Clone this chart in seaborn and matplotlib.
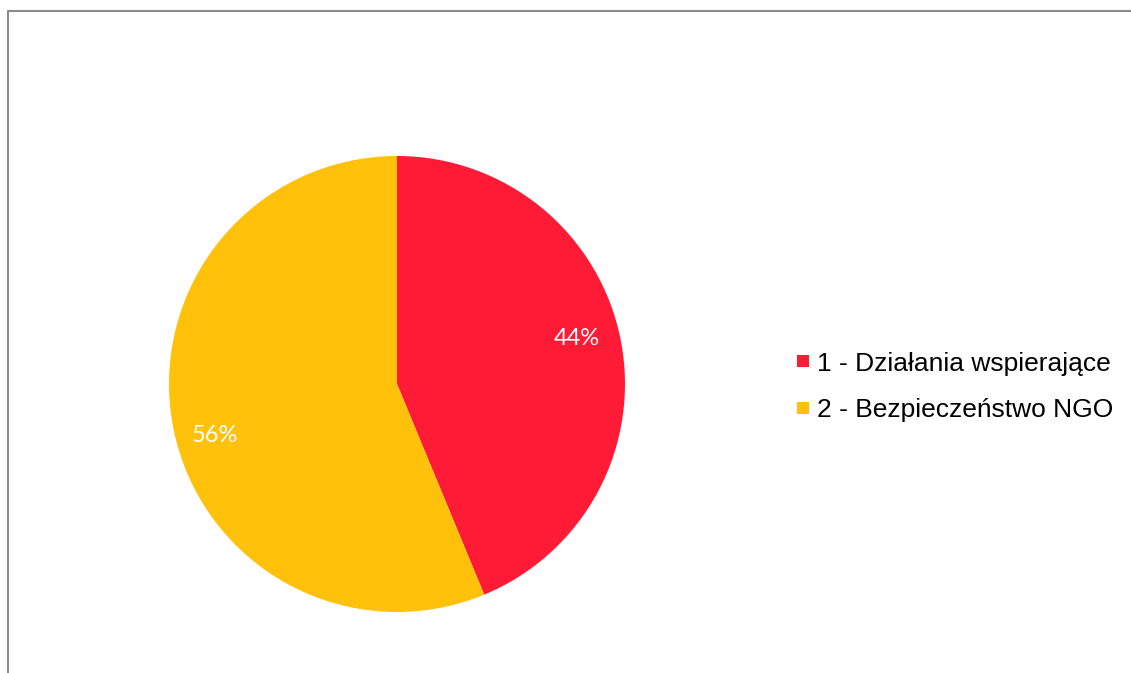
import matplotlib
matplotlib.use("Agg")
import matplotlib.pyplot as plt
from matplotlib.lines import Line2D
import seaborn as sns

categories = ["1 - Działania wspierające", "2 - Bezpieczeństwo NGO"]
counts = [7, 9]
slice_colors = ["#FF1A35", "#FFC10A"]

sns.set_theme(style="white")
plt.rcParams["font.family"] = ["Liberation Sans", "DejaVu Sans"]

fig = plt.figure(figsize=(11.31, 6.73), dpi=100)
fig.patch.set_facecolor("white")

# pie area, centre (397, 384) px, radius 228 px
ax = fig.add_axes([169 / 1131, 61 / 673, 456 / 1131, 456 / 673])
palette = sns.color_palette(slice_colors)
wedges, texts, autotexts = ax.pie(
    counts,
    colors=palette,
    startangle=90,
    counterclock=False,
    autopct="%.0f%%",
    pctdistance=0.82,
    radius=1.0,
    wedgeprops=dict(linewidth=0),
)
# label spots as in the original chart (fractions of the radius)
label_spots = [(0.79, 0.20), (-0.80, -0.225)]
for t, (lx, ly) in zip(autotexts, label_spots):
    t.set_position((lx, ly))
    t.set_color("white")
    t.set_fontsize(17)
    t.set_family(["Lato", "DejaVu Sans"])
ax.set_aspect("equal")
ax.set_xlim(-1, 1)
ax.set_ylim(-1, 1)
ax.axis("off")

# legend with square markers
handles = [Line2D([], [], marker="s", linestyle="none", markersize=8,
                  markerfacecolor=c, markeredgewidth=0) for c in slice_colors]
fig.legend(handles, categories, loc="center left",
           bbox_to_anchor=(796 / 1131, 1 - 387 / 673),
           frameon=False, fontsize=19, handlelength=0.5,
           handletextpad=0.3, labelspacing=0.86, borderpad=0, borderaxespad=0,
           labelcolor="black")

# chart frame (only top and left edges visible)
frame_color = "#8C8C8C"
y_top = 1 - 10.5 / 673
x_left = 7.5 / 1131
fig.add_artist(Line2D([x_left, 1], [y_top, y_top], color=frame_color, linewidth=1.5,
                      transform=fig.transFigure))
fig.add_artist(Line2D([x_left, x_left], [0, y_top], color=frame_color, linewidth=1.5,
                      transform=fig.transFigure))

fig.savefig("out.png", dpi=100, facecolor="white")
